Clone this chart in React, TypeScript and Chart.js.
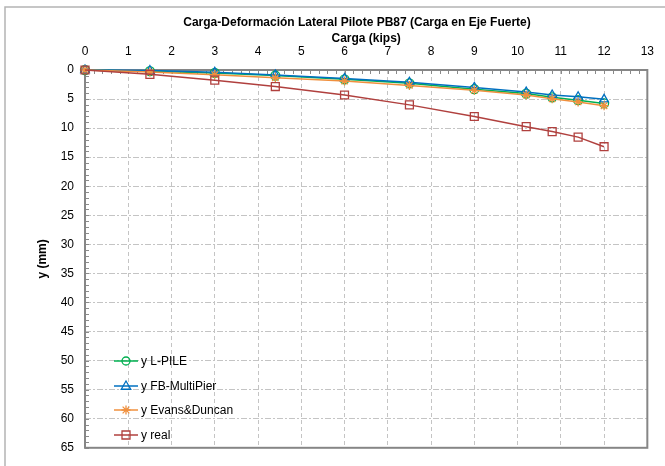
import React, { useEffect, useRef } from "react";
import { Chart, registerables } from "chart.js";

Chart.register(...registerables);

const cargaKips = [0, 1.5, 3, 4.4, 6, 7.5, 9, 10.2, 10.8, 11.4, 12];
const yLPile = [0, 0.2, 0.5, 0.95, 1.6, 2.3, 3.3, 4.05, 4.7, 5.2, 5.75];
const yFBMultiPier = [0, 0.1, 0.4, 0.85, 1.45, 2.1, 3.0, 3.8, 4.3, 4.6, 5.05];
const yEvansDuncan = [0, 0.35, 0.8, 1.35, 1.9, 2.65, 3.5, 4.3, 4.95, 5.5, 6.15];
const yReal = [0, 0.75, 1.75, 2.85, 4.3, 6.0, 8.0, 9.75, 10.6, 11.55, 13.2];

const seriesNames = ["y L-PILE", "y FB-MultiPier", "y Evans&Duncan", "y real"];
const seriesColors = ["#00B050", "#0070C0", "#F0903E", "#B0403E"];
const seriesMarkers = ["circle", "triangle", "star", "rect"];

const chartTitle = "Carga-Deformación Lateral Pilote PB87 (Carga en Eje Fuerte)";
const xTitle = "Carga (kips)";
const yTitle = "y (mm)";

const FONT = "'Liberation Sans', Arial, Helvetica, sans-serif";

function drawMarker(ctx: CanvasRenderingContext2D, kind: string, x: number, y: number, color: string) {
  ctx.save();
  ctx.strokeStyle = color;
  ctx.lineWidth = 1.3;
  ctx.beginPath();
  if (kind === "circle") {
    ctx.arc(x, y, 4, 0, Math.PI * 2);
  } else if (kind === "triangle") {
    const r = 5;
    ctx.moveTo(x, y - r);
    ctx.lineTo(x + r * 0.95, y + r * 0.65);
    ctx.lineTo(x - r * 0.95, y + r * 0.65);
    ctx.closePath();
  } else if (kind === "star") {
    const r = 4.5;
    ctx.moveTo(x - r, y);
    ctx.lineTo(x + r, y);
    ctx.moveTo(x, y - r);
    ctx.lineTo(x, y + r);
    const d = r * 0.75;
    ctx.moveTo(x - d, y - d);
    ctx.lineTo(x + d, y + d);
    ctx.moveTo(x - d, y + d);
    ctx.lineTo(x + d, y - d);
  } else {
    ctx.rect(x - 4, y - 4, 8, 8);
  }
  ctx.stroke();
  ctx.restore();
}

const decorPlugin = {
  id: "decor",
  beforeDraw(chart: any) {
    const ctx = chart.ctx as CanvasRenderingContext2D;
    ctx.save();
    ctx.fillStyle = "#ffffff";
    ctx.fillRect(0, 0, chart.width, chart.height);
    ctx.strokeStyle = "#b4b4b4";
    ctx.lineWidth = 1.5;
    ctx.strokeRect(5, 7, chart.width + 20, chart.height + 20);
    ctx.restore();
  },
  beforeDatasetsDraw(chart: any) {
    const ctx = chart.ctx as CanvasRenderingContext2D;
    const { left, right, top, bottom } = chart.chartArea;
    const xs = chart.scales.x;
    const ys = chart.scales.y;
    ctx.save();
    ctx.strokeStyle = "#8a8a8a";
    ctx.lineWidth = 1;
    ctx.beginPath();
    for (let i = 0; i <= 65; i++) {
      const v = i / 5;
      const px = Math.round(xs.getPixelForValue(v)) + 0.5;
      ctx.moveTo(px, top);
      ctx.lineTo(px, top + 4);
    }
    for (let v = 0; v <= 65; v++) {
      const py = Math.round(ys.getPixelForValue(v)) + 0.5;
      ctx.moveTo(left, py);
      ctx.lineTo(left + 4, py);
    }
    ctx.stroke();
    ctx.strokeStyle = "#868686";
    ctx.lineWidth = 2;
    ctx.strokeRect(left, top, right - left, bottom - top);
    ctx.restore();
  },
  afterDraw(chart: any) {
    const ctx = chart.ctx as CanvasRenderingContext2D;
    const { left, right, top, bottom } = chart.chartArea;
    ctx.save();
    ctx.fillStyle = "#000000";
    ctx.textAlign = "center";
    ctx.textBaseline = "middle";
    ctx.font = `bold 12px ${FONT}`;
    ctx.fillText(chartTitle, 357, 23);
    ctx.fillText(xTitle, (left + right) / 2, 39);
    ctx.save();
    ctx.translate(43, (top + bottom) / 2);
    ctx.rotate(-Math.PI / 2);
    ctx.fillText(yTitle, 0, 0);
    ctx.restore();

    const legendY = [361, 386, 410, 435];
    ctx.font = `12px ${FONT}`;
    ctx.textAlign = "left";
    seriesNames.forEach((name, i) => {
      const y = legendY[i];
      ctx.strokeStyle = seriesColors[i];
      ctx.lineWidth = 1.5;
      ctx.beginPath();
      ctx.moveTo(114, y);
      ctx.lineTo(138, y);
      ctx.stroke();
      drawMarker(ctx, seriesMarkers[i], 126, y, seriesColors[i]);
      ctx.fillStyle = "#000000";
      ctx.fillText(name, 141, y + 0.5);
    });
    ctx.restore();
  },
};

const seriesValues = [yLPile, yFBMultiPier, yEvansDuncan, yReal];

export default function App() {
  const canvasRef = useRef<HTMLCanvasElement | null>(null);

  useEffect(() => {
    if (!canvasRef.current) return;
    Chart.defaults.font.family = FONT;
    Chart.defaults.font.size = 12;
    Chart.defaults.color = "#000000";

    const datasets = seriesValues.map((vals, i) => ({
      label: seriesNames[i],
      data: cargaKips.map((x, j) => ({ x, y: vals[j] })),
      borderColor: seriesColors[i],
      backgroundColor: "rgba(255,255,255,0)",
      borderWidth: 1.5,
      pointStyle: seriesMarkers[i] as any,
      pointRadius: seriesMarkers[i] === "rect" ? 5.6 : seriesMarkers[i] === "triangle" ? 5 : 4.5,
      pointBorderWidth: 1.3,
      pointBorderColor: seriesColors[i],
      pointBackgroundColor: "rgba(255,255,255,0)",
      tension: 0,
      fill: false,
      clip: false as any,
      order: 4 - i,
    }));

    const chart = new Chart(canvasRef.current, {
      type: "line",
      data: { datasets },
      plugins: [decorPlugin],
      options: {
        animation: false,
        responsive: false,
        devicePixelRatio: 1,
        layout: { padding: { left: 0, top: 0, right: 12, bottom: 10 } },
        plugins: {
          legend: { display: false },
          title: { display: false },
          tooltip: { enabled: false },
        },
        scales: {
          x: {
            type: "linear",
            position: "top",
            min: 0,
            max: 13,
            ticks: { stepSize: 1, padding: 11, color: "#000", font: { size: 12, family: FONT } },
            grid: { color: "#c4c4c4", lineWidth: 1, drawTicks: false },
            border: { display: false, dash: [4, 3] },
            afterFit: (s: any) => {
              s.height = 70;
            },
          },
          y: {
            type: "linear",
            reverse: true,
            min: 0,
            max: 65,
            ticks: { stepSize: 5, padding: 11, color: "#000", font: { size: 12, family: FONT } },
            grid: { color: "#c4c4c4", lineWidth: 1, drawTicks: false },
            border: { display: false, dash: [6, 2, 2, 2] },
            afterFit: (s: any) => {
              s.width = 85;
            },
          },
        },
      },
    });
    return () => chart.destroy();
  }, []);

  return (
    <div style={{ position: "absolute", left: 0, top: 0, width: 665, height: 466 }}>
      <canvas ref={canvasRef} width={665} height={466} style={{ display: "block" }} />
    </div>
  );
}
